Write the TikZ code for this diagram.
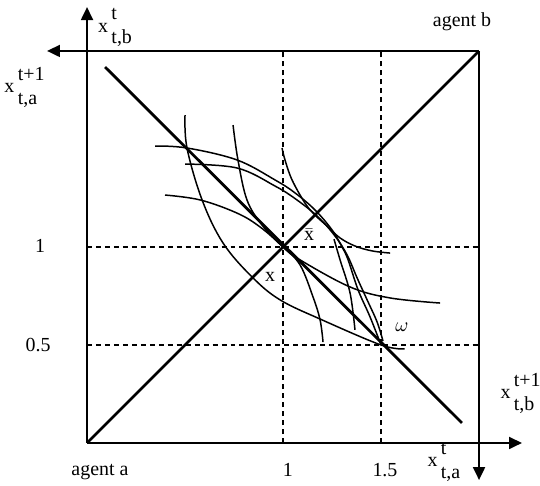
\documentclass[tikz,border=0pt]{standalone}
\usepackage{fontspec}
\setmainfont{Liberation Serif}
\usetikzlibrary{arrows.meta}
% axis label: an x with its upper and lower index stacked at full size
\newcommand{\axlab}[2]{x\,\begin{tabular}{@{}l@{}}#1\\#2\end{tabular}}
\begin{document}
\begin{tikzpicture}[
		x=3.457cm, y=3.457cm,
		axis/.style={line width=1pt, -{Triangle[length=6.5pt,width=6pt]}},
		frame/.style={line width=1pt},
		diag/.style={line width=1.4pt},
		guide/.style={line width=0.7pt, dash pattern=on 2.5pt off 2pt},
		icurve/.style={line width=0.75pt, smooth, tension=0.6},
		every node/.style={font=\normalsize, inner sep=1pt},
		]
		\useasboundingbox (-0.444,-0.219) rectangle (2.311,2.260);
		% corners of the box and the two marked allocations
		\coordinate (oa) at (0,0);
		\coordinate (ob) at (2,2);
		\coordinate (e) at (1,1);
		\coordinate (w) at (1.5,0.5);
		\coordinate (p) at (0.092,1.918);
		\coordinate (q) at (1.913,0.102);
		
		% dashed guides
		\draw[guide] (1,0) -- (1,2);
		\draw[guide] (1.5,0) -- (1.5,2);
		\draw[guide] (0,1) -- (2,1);
		\draw[guide] (0,0.5) -- (2,0.5);
		
		% axes of both agents
		\draw[axis] (oa) -- (2.219,0);
		\draw[axis] (oa) -- (0,2.224);
		\draw[axis] (ob) -- (-0.204,2);
		\draw[axis] (ob) -- (2,-0.189);
		
		% contract line and budget line
		\draw[diag] (oa) -- (ob);
		\draw[diag] (p) -- (q);
		
		% indifference curves
		\draw[icurve] plot coordinates {(0.500,1.673) (0.510,1.505) (0.587,1.240) (0.694,1.020) (0.842,0.847) (0.985,0.730) (1.199,0.628) (1.5,0.5) (1.62,0.48)};
		\draw[icurve] plot coordinates {(0.347,1.515) (0.510,1.505) (0.765,1.444) (0.959,1.342) (1.061,1.276) (1.163,1.189) (1.250,1.087) (1.301,1.000) (1.332,0.934) (1.383,0.781) (1.444,0.643) (1.5,0.5)};
		\draw[icurve] plot coordinates {(0.500,1.423) (0.765,1.403) (0.959,1.311) (1.071,1.240) (1.179,1.153) (1.265,1.056) (1.327,0.959) (1.378,0.842) (1.429,0.730) (1.480,0.617) (1.51,0.52)};
		\draw[icurve] plot coordinates {(0.995,1.505) (1.010,1.444) (1.046,1.342) (1.112,1.224) (1.163,1.163) (1.230,1.102) (1.291,1.046) (1.367,1.005) (1.454,0.980) (1.546,0.969)};
		\draw[icurve] plot coordinates {(0.745,1.622) (0.770,1.444) (0.816,1.240) (0.893,1.112) (1,1) (1.087,0.934) (1.342,0.796) (1.546,0.740) (1.801,0.714)};
		\draw[icurve] plot coordinates {(0.398,1.265) (0.577,1.240) (0.765,1.173) (0.883,1.102) (1,1) (1.087,0.908) (1.153,0.745) (1.189,0.628) (1.204,0.515)};
		\draw[icurve] plot coordinates {(1.26,1.04) (1.291,0.934) (1.342,0.765) (1.367,0.577)};
		
		% labels
		\node (agA) at (0.066,-0.148) {agent a};
		\node (agB) at (1.913,2.148) {agent b};
		\node (tx1) at (1.025,-0.138) {1};
		\node (tx2) at (1.52,-0.138) {1.5};
		\node (ty1) at (-0.240,1.005) {1};
		\node (ty2) at (-0.25,0.5) {0.5};
		\node (lxa) at (1.821,-0.097) {\axlab{t}{t,a}};
		\node (lxb) at (2.212,0.250) {\axlab{t+1}{t,b}};
		\node (lya) at (-0.319,1.811) {\axlab{t+1}{t,a}};
		\node (lyb) at (0.143,2.122) {\axlab{t}{t,b}};
		\node (lw) at (1.607,0.592) {$\omega$};
		\node (lx) at (0.934,0.847) {x};
		\node (lxbar) at (1.133,1.061) {$\bar{\mathrm{x}}$};
	\end{tikzpicture}
\end{document}
